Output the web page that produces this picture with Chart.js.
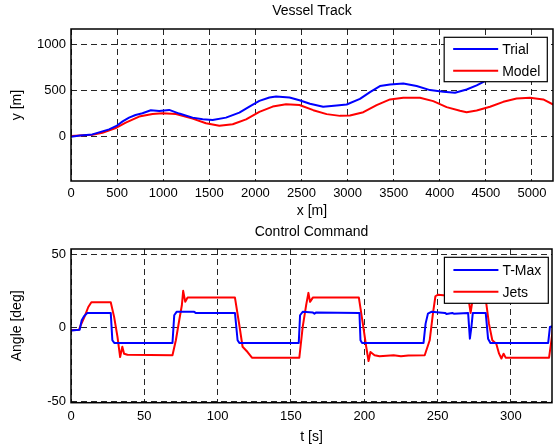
<!DOCTYPE html>
<html><head><meta charset="utf-8">
<script src="https://cdn.jsdelivr.net/npm/chart.js@4/dist/chart.umd.min.js"></script>
<style>
html,body{margin:0;padding:0;background:#fff;}
canvas{display:block;position:absolute;left:0;}
#c1{top:0}#c2{top:224px}
</style></head><body>
<canvas id="c1" width="556" height="224"></canvas>
<canvas id="c2" width="556" height="224"></canvas>
<script>
// ---- Vessel Track ----
const trialX = [0, 100, 232, 413, 493, 560, 630, 700, 775, 866, 957, 1065, 1174, 1319, 1428, 1536, 1681, 1826, 1935, 2043, 2152, 2225, 2370, 2478, 2592, 2735, 2882, 2990, 3134, 3243, 3351, 3460, 3604, 3749, 3894, 4038, 4165, 4291, 4400, 4490, 4600, 4700];
const trialY = [-7, 5, 18, 73, 110, 160, 201, 230, 248, 281, 274, 285, 245, 201, 182, 175, 201, 255, 321, 383, 420, 431, 420, 391, 352, 319, 334, 344, 406, 479, 545, 563, 574, 545, 501, 483, 472, 508, 552, 599, 650, 700];
const modelX = [0, 232, 341, 493, 594, 739, 884, 993, 1138, 1319, 1464, 1609, 1754, 1899, 2043, 2188, 2333, 2478, 2628, 2773, 2918, 3026, 3171, 3315, 3460, 3604, 3785, 3929, 4074, 4219, 4291, 4400, 4545, 4689, 4834, 4978, 5122, 5231];
const modelY = [0, 15, 36, 91, 146, 212, 241, 248, 241, 190, 139, 113, 128, 182, 263, 321, 347, 339, 282, 239, 220, 224, 260, 337, 399, 417, 417, 381, 315, 275, 260, 278, 319, 373, 410, 417, 399, 344];
const trackXTicks = [0, 500, 1000, 1500, 2000, 2500, 3000, 3500, 4000, 4500, 5000];
const trackYTicks = [0, 500, 1000];

// ---- Control Command ----
const tmaxT = [0, 5.9, 7.3, 8.9, 11.2, 27.1, 28.2, 29.5, 69.2, 70.4, 72, 84, 85, 111.8, 113.6, 114.8, 155.3, 156.2, 158, 165, 166, 167, 196.7, 197.4, 198.5, 240.4, 241.8, 243.4, 245.7, 255, 256, 260, 261, 270.8, 272, 273, 274, 282.8, 284.4, 286, 325.4, 326.6, 328.2];
const tmaxV = [-2, -1.4, 5, 7.7, 10, 10, -8.6, -10.4, -10.4, 8.4, 10.7, 10.7, 10, 10, -8.6, -10.4, -10.4, 8.4, 10.7, 10.2, 9.5, 10.2, 10, -8.6, -10.4, -10.4, 2.7, 9.5, 10.7, 10, 9.3, 10, 9.5, 10, -7.5, 0, 10, 10, -7.5, -10.4, -10.4, 0.5, 0.9];
const jetsT = [0, 5.5, 6.6, 8.9, 11.8, 13.9, 27.1, 29.4, 31.7, 33.5, 35, 36.2, 38.5, 69.2, 71.5, 73.8, 75.6, 76.5, 77.9, 79.5, 111.8, 114.8, 117, 120.4, 123.4, 155.7, 158, 160.3, 161.9, 163, 164.9, 196.3, 199, 201.3, 202.9, 204.2, 207, 210.4, 220, 225, 230, 241.2, 244.6, 246.8, 248.5, 250.3, 270, 271, 272.5, 274, 275, 282, 283.2, 285, 287.3, 290, 291.9, 293.5, 295, 296.4, 326, 327.6, 328.7];
const jetsV = [-1.8, -1.4, 1.6, 6.6, 14, 17.2, 17.2, 7.3, -6.3, -20, -13, -17.7, -18.4, -18.8, -8.6, 5, 15.2, 25, 17.5, 20.4, 20.4, 1.6, -13, -16.6, -20.4, -20.4, 0.5, 15, 23.6, 17.5, 20.4, 20.4, 2.7, -13, -22.7, -16.6, -18.8, -19.5, -18.8, -19.5, -19, -18.8, -8.6, 9.5, 21.3, 22.4, 20.4, 20, 10, 20, 20.4, 20.4, 16.3, 2.7, -8.6, -10.9, -17.7, -21, -17.7, -20.4, -20.4, -8.6, 0];
const cmdXTicks = [0, 50, 100, 150, 200, 250, 300];
const cmdYTicks = [-50, 0, 50];

const FONT = '"Liberation Sans", Arial, Helvetica, sans-serif';
const pts = (xs, ys) => xs.map((x, i) => ({x, y: ys[i]}));

// draws the axes box, the axes title centred over the plot area, and the boxed legend
const frameLegend = {
  id: 'frameLegend',
  afterDatasetsDraw(chart, args, opts) {
    const {ctx, chartArea: a} = chart;
    ctx.save();
    ctx.strokeStyle = '#000';
    ctx.lineWidth = 1.5;
    ctx.strokeRect(a.left, a.top, a.right - a.left, a.bottom - a.top);
    // title
    ctx.font = '14px ' + FONT;
    ctx.fillStyle = '#000';
    ctx.textAlign = 'center';
    ctx.textBaseline = 'middle';
    ctx.fillText(opts.title, (a.left + a.right) / 2, opts.titleY);
    // legend
    const ds = chart.data.datasets;
    const tw = Math.max(...ds.map(d => ctx.measureText(d.label).width));
    const lineLen = 45, padL = 9, gap = 4, padR = 7, rowH = 21.7;
    const w = padL + lineLen + gap + tw + padR;
    const h = opts.h;
    const x = a.right - opts.right - w, y = a.top + opts.top;
    ctx.fillStyle = '#fff';
    ctx.fillRect(x, y, w, h);
    ctx.lineWidth = 1.2;
    ctx.strokeRect(x, y, w, h);
    ds.forEach((d, i) => {
      const ry = y + opts.first + i * rowH;
      ctx.strokeStyle = d.borderColor;
      ctx.lineWidth = 2;
      ctx.beginPath();
      ctx.moveTo(x + padL, ry);
      ctx.lineTo(x + padL + lineLen, ry);
      ctx.stroke();
      ctx.fillStyle = '#000';
      ctx.textBaseline = 'middle';
      ctx.textAlign = 'left';
      ctx.fillText(d.label, x + padL + lineLen + gap, ry + 1);
    });
    ctx.restore();
  }
};

function build(id, o) {
  const grid = {color: 'rgba(0,0,0,0.85)', lineWidth: 1, drawTicks: false};
  const border = {display: false, dash: [6, 4]};
  return new Chart(document.getElementById(id), {
    type: 'scatter',
    data: {
      datasets: o.series.map(s => ({
        label: s.label, data: s.data, showLine: true, borderColor: s.color,
        backgroundColor: s.color, borderWidth: 2, pointRadius: 0, pointHoverRadius: 0,
        tension: 0, borderJoinStyle: 'round'
      }))
    },
    options: {
      responsive: false, animation: false, devicePixelRatio: 1,
      layout: {padding: {left: 0, right: o.padRight, top: o.padTop, bottom: 0}},
      plugins: {
        legend: {display: false}, tooltip: {enabled: false}, title: {display: false},
        frameLegend: o.legend
      },
      scales: {
        x: {
          type: 'linear', min: o.xMin, max: o.xMax,
          grid: grid, border: border,
          afterBuildTicks: s => { s.ticks = o.xTicks.map(v => ({value: v})); },
          afterFit: s => { s.height = o.xH; },
          ticks: {color: '#000', padding: o.xTickPad, maxRotation: 0, autoSkip: false,
            font: {family: FONT, size: 13}, callback: v => String(v)},
          title: {display: true, text: o.xTitle, color: '#000',
            font: {family: FONT, size: 14}, padding: {top: 0, bottom: o.xTitlePad}}
        },
        y: {
          type: 'linear', min: o.yMin, max: o.yMax,
          grid: grid, border: border,
          afterBuildTicks: s => { s.ticks = o.yTicks.map(v => ({value: v})); },
          afterFit: s => { s.width = 71; },
          ticks: {color: '#000', padding: 5, autoSkip: false,
            font: {family: FONT, size: 13}, callback: v => String(v)},
          title: {display: true, text: o.yTitle, color: '#000',
            font: {family: FONT, size: 14}, padding: {top: 9, bottom: 0}}
        }
      }
    },
    plugins: [frameLegend]
  });
}

build('c1', {
  padTop: 29,
  series: [
    {label: 'Trial', data: pts(trialX, trialY), color: '#0000ff'},
    {label: 'Model', data: pts(modelX, modelY), color: '#ff0000'}
  ],
  xMin: 0, xMax: 5228, yMin: -490, yMax: 1167,
  xTicks: trackXTicks, yTicks: trackYTicks,
  xTitle: 'x [m]', yTitle: 'y [m]',
  xH: 43, xTickPad: 5, xTitlePad: 4.6, padRight: 3,
  legend: {title: 'Vessel Track', titleY: 11.5, right: 5.7, top: 8.3, h: 44.4, first: 11.7}
});

build('c2', {
  padTop: 25,
  series: [
    {label: 'T-Max', data: pts(tmaxT, tmaxV), color: '#0000ff'},
    {label: 'Jets', data: pts(jetsT, jetsV), color: '#ff0000'}
  ],
  xMin: 0, xMax: 328, yMin: -51, yMax: 53.4,
  xTicks: cmdXTicks, yTicks: cmdYTicks,
  xTitle: 't [s]', yTitle: 'Angle [deg]',
  xH: 45.3, xTickPad: 5.5, xTitlePad: 2.6, padRight: 4,
  legend: {title: 'Control Command', titleY: 8.5, right: 3.7, top: 8.3, h: 46, first: 12.7}
});
</script>
</body></html>
